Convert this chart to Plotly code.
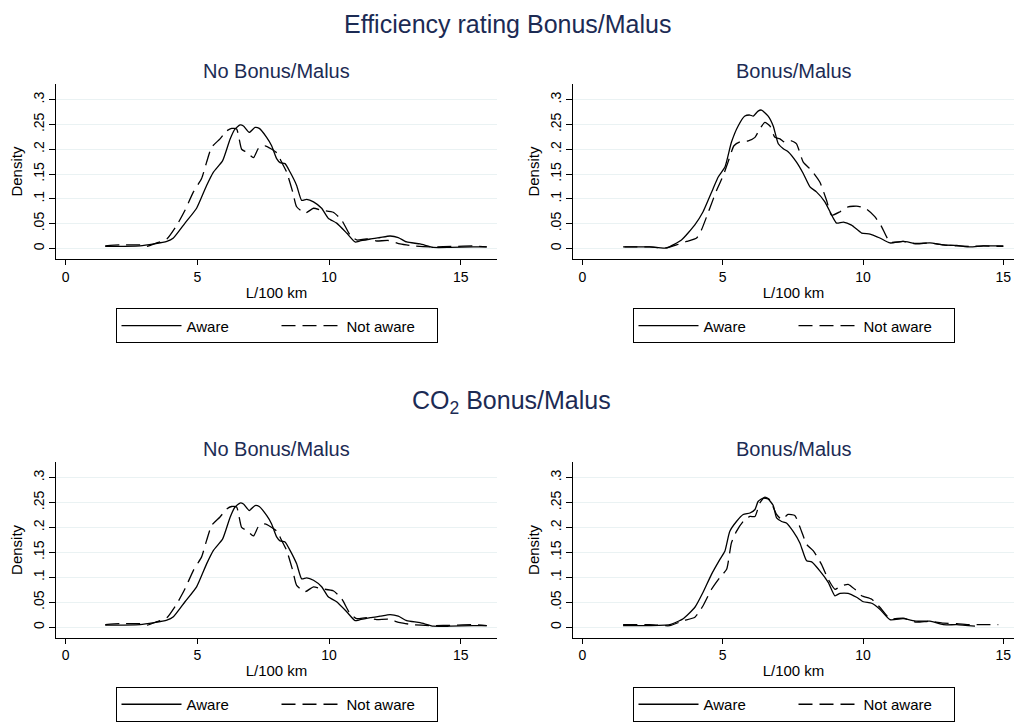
import plotly.graph_objects as go

# ---------------- data ----------------
# Efficiency rating Bonus/Malus, No Bonus/Malus
eff_no_aware_x = [1.5, 2.82, 3.84, 4.09, 4.53, 4.97, 5.35, 5.61, 5.96, 6.24, 6.43, 6.62, 6.75, 6.97, 7.19, 7.35,
                  7.63, 7.82, 8.01, 8.14, 8.33, 8.52, 8.77, 8.96, 9.15, 9.41, 9.72, 9.97, 10.29, 10.67, 10.99,
                  11.18, 11.56, 11.94, 12.32, 12.63, 12.95, 13.46, 13.96, 14.6, 15.48, 15.99]
eff_no_aware_y = [0.004, 0.005, 0.014, 0.021, 0.051, 0.081, 0.127, 0.154, 0.177, 0.220, 0.241, 0.249, 0.247,
                  0.234, 0.244, 0.242, 0.224, 0.207, 0.181, 0.173, 0.171, 0.154, 0.127, 0.097, 0.099, 0.094,
                  0.081, 0.061, 0.051, 0.031, 0.013, 0.015, 0.019, 0.022, 0.025, 0.022, 0.013, 0.009, 0.002,
                  0.002, 0.003, 0.003]
eff_no_not_x = [1.5, 2.06, 2.82, 3.08, 3.46, 3.84, 4.22, 4.53, 4.85, 5.16, 5.35, 5.54, 5.86, 6.11, 6.30, 6.49,
                6.68, 6.87, 7.13, 7.32, 7.57, 8.01, 8.20, 8.39, 8.62, 8.77, 9.09, 9.41, 9.72, 10.16, 10.48,
                10.80, 11.05, 11.43, 11.81, 12.25, 12.70, 13.2, 13.96, 14.72, 15.48, 15.99]
eff_no_not_y = [0.005, 0.007, 0.007, 0.004, 0.011, 0.019, 0.047, 0.077, 0.114, 0.141, 0.174, 0.204, 0.221,
                0.237, 0.242, 0.241, 0.200, 0.194, 0.183, 0.202, 0.207, 0.193, 0.174, 0.154, 0.114, 0.084,
                0.071, 0.081, 0.077, 0.073, 0.057, 0.027, 0.017, 0.019, 0.015, 0.016, 0.009, 0.005, 0.003,
                0.004, 0.005, 0.003]

# Efficiency rating Bonus/Malus, Bonus/Malus
eff_bm_aware_x = [1.5, 2.4, 3.0, 3.53, 4.0, 4.30, 4.66, 4.84, 5.08, 5.31, 5.55, 5.79, 5.97, 6.09, 6.26, 6.38,
                  6.62, 6.80, 6.98, 7.16, 7.33, 7.63, 7.87, 8.11, 8.34, 8.64, 8.94, 9.06, 9.30, 9.59, 9.95,
                  10.25, 10.60, 10.96, 11.43, 11.91, 12.39, 12.86, 13.34, 13.81, 14.29, 15.0]
eff_bm_aware_y = [0.003, 0.003, 0.001, 0.017, 0.047, 0.074, 0.121, 0.144, 0.164, 0.214, 0.247, 0.267, 0.269,
                  0.267, 0.277, 0.279, 0.267, 0.247, 0.211, 0.201, 0.195, 0.174, 0.151, 0.124, 0.114, 0.094,
                  0.061, 0.051, 0.053, 0.047, 0.031, 0.029, 0.021, 0.011, 0.014, 0.010, 0.011, 0.007, 0.006,
                  0.003, 0.005, 0.005]
eff_bm_not_x = [1.45, 2.40, 3.0, 3.35, 3.71, 4.07, 4.24, 4.54, 4.78, 5.02, 5.19, 5.40, 5.61, 5.91, 6.15, 6.32,
                6.50, 6.68, 6.86, 7.04, 7.21, 7.45, 7.63, 7.87, 8.17, 8.46, 8.70, 8.88, 9.18, 9.47, 9.83,
                10.13, 10.42, 10.66, 10.96, 11.43, 11.91, 12.39, 12.86, 13.34, 13.81, 14.29, 15.0]
eff_bm_not_y = [0.003, 0.003, 0.001, 0.007, 0.014, 0.021, 0.037, 0.081, 0.117, 0.147, 0.174, 0.207, 0.215,
                0.217, 0.224, 0.241, 0.254, 0.247, 0.224, 0.221, 0.214, 0.217, 0.211, 0.174, 0.157, 0.134,
                0.097, 0.067, 0.074, 0.084, 0.085, 0.079, 0.064, 0.044, 0.013, 0.014, 0.009, 0.011, 0.007,
                0.005, 0.004, 0.005, 0.004]

# CO2 Bonus/Malus, No Bonus/Malus (same curves as the efficiency panel in the reference)
co2_no_aware_x = list(eff_no_aware_x)
co2_no_aware_y = list(eff_no_aware_y)
co2_no_not_x = list(eff_no_not_x)
co2_no_not_y = list(eff_no_not_y)

# CO2 Bonus/Malus, Bonus/Malus
co2_bm_aware_x = [1.45, 2.16, 3.11, 3.59, 4.01, 4.30, 4.60, 4.90, 5.08, 5.25, 5.49, 5.73, 5.97, 6.15, 6.26,
                  6.44, 6.62, 6.80, 6.92, 7.10, 7.27, 7.51, 7.75, 7.99, 8.17, 8.46, 8.76, 9.0, 9.18, 9.47,
                  9.77, 10.01, 10.31, 10.6, 10.96, 11.43, 11.91, 12.39, 12.86, 13.34, 13.99]
co2_bm_aware_y = [0.003, 0.003, 0.005, 0.017, 0.040, 0.070, 0.106, 0.136, 0.153, 0.192, 0.212, 0.226, 0.229,
                  0.236, 0.252, 0.259, 0.257, 0.244, 0.219, 0.212, 0.209, 0.192, 0.169, 0.133, 0.131, 0.113,
                  0.090, 0.063, 0.068, 0.068, 0.060, 0.051, 0.048, 0.036, 0.015, 0.017, 0.012, 0.012, 0.005,
                  0.005, 0.002]
co2_bm_not_x = [1.45, 2.40, 3.11, 3.59, 4.01, 4.30, 4.60, 4.90, 5.14, 5.31, 5.49, 5.73, 5.97, 6.15, 6.32, 6.50,
                6.68, 6.92, 7.10, 7.33, 7.57, 7.81, 7.99, 8.23, 8.52, 8.76, 9.0, 9.24, 9.47, 9.71, 9.95,
                10.31, 10.6, 10.96, 11.43, 11.91, 12.39, 12.86, 13.34, 13.81, 14.29, 14.82]
co2_bm_not_y = [0.005, 0.005, 0.003, 0.013, 0.020, 0.043, 0.076, 0.100, 0.116, 0.169, 0.192, 0.212, 0.222,
                0.222, 0.249, 0.261, 0.255, 0.226, 0.216, 0.226, 0.224, 0.192, 0.166, 0.153, 0.126, 0.096,
                0.076, 0.083, 0.086, 0.076, 0.063, 0.056, 0.040, 0.017, 0.018, 0.010, 0.012, 0.008, 0.007,
                0.005, 0.005, 0.005]

series_names = ["Aware", "Not aware"]
main_titles = ["Efficiency rating Bonus/Malus", "CO<sub>2</sub> Bonus/Malus"]
panel_titles = ["No Bonus/Malus", "Bonus/Malus"]
x_ticks = [0, 5, 10, 15]
y_ticks = [0, 0.05, 0.1, 0.15, 0.2, 0.25, 0.3]
y_tick_text = ["0", ".05", ".1", ".15", ".2", ".25", ".3"]
x_title = "L/100 km"
y_title = "Density"

# ---------------- figure ----------------
W, H = 1015, 722
FONT = "Liberation Sans, Arial, Helvetica, sans-serif"
NAVY = "#1c2b54"
GRID = "#eaf2f3"


def px_x(p):
    return p / W


def px_y(p):
    return 1 - p / H


panels = [
    # (axis suffix, x px, y px, x range, data, legend id, subtitle)
    ("", (56, 497), (85, 261), [-0.37, 16.38],
     (eff_no_aware_x, eff_no_aware_y, eff_no_not_x, eff_no_not_y), "legend", panel_titles[0]),
    ("2", (573, 1014), (85, 261), [-0.335, 15.38],
     (eff_bm_aware_x, eff_bm_aware_y, eff_bm_not_x, eff_bm_not_y), "legend2", panel_titles[1]),
    ("3", (56, 497), (466, 643), [-0.37, 16.38],
     (co2_no_aware_x, co2_no_aware_y, co2_no_not_x, co2_no_not_y), "legend3", panel_titles[0]),
    ("4", (573, 1014), (466, 643), [-0.335, 15.38],
     (co2_bm_aware_x, co2_bm_aware_y, co2_bm_not_x, co2_bm_not_y), "legend4", panel_titles[1]),
]

fig = go.Figure()
layout = dict(
    width=W, height=H, autosize=False,
    margin=dict(l=0, r=0, t=0, b=0),
    paper_bgcolor="white", plot_bgcolor="white",
    font=dict(family=FONT, color="black", size=14),
    annotations=[],
)

for suffix, (x0, x1), (y0, y1), xr, data, leg, sub in panels:
    ax, ay, nx, ny = data
    xa = "x" + suffix
    ya = "y" + suffix
    fig.add_trace(go.Scatter(x=ax, y=ay, mode="lines", name=series_names[0],
                             line=dict(color="black", width=1.3, shape="spline", smoothing=0.5),
                             xaxis=xa, yaxis=ya, legend=leg, hoverinfo="x+y"))
    fig.add_trace(go.Scatter(x=nx, y=ny, mode="lines", name=series_names[1],
                             line=dict(color="black", width=1.3, dash="14px,7px", shape="spline", smoothing=0.5),
                             xaxis=xa, yaxis=ya, legend=leg, hoverinfo="x+y"))

    layout["xaxis" + suffix] = dict(
        domain=[px_x(x0), px_x(x1)], anchor=ya, range=xr,
        showline=True, linecolor="black", linewidth=1, mirror=False,
        ticks="outside", ticklen=5, tickcolor="black", tickwidth=1,
        tickvals=x_ticks, showgrid=False, zeroline=False,
        tickfont=dict(size=14, family=FONT, color="black"),
        title=dict(text=x_title, font=dict(size=15, family=FONT, color="black"), standoff=3),
        automargin=False,
    )
    layout["yaxis" + suffix] = dict(
        domain=[px_y(y1), px_y(y0)], anchor=xa, range=[-0.021, 0.331],
        showline=True, linecolor="black", linewidth=1, mirror=False,
        ticks="outside", ticklen=6, tickcolor="black", tickwidth=1,
        tickvals=y_ticks, ticktext=y_tick_text, tickangle=-90,
        ticklabelstandoff=-1,
        showgrid=True, gridcolor=GRID, gridwidth=1, zeroline=False,
        tickfont=dict(size=14, family=FONT, color="black"),
        title=dict(text=y_title, font=dict(size=15, family=FONT, color="black"), standoff=5),
        automargin=False,
    )
    layout[leg] = dict(
        orientation="h", x=px_x((x0 + x1) / 2), xanchor="center",
        y=px_y(y1 + 50), yanchor="top",
        bordercolor="black", borderwidth=1, bgcolor="white",
        font=dict(size=15, family=FONT, color="black"),
        itemwidth=60, entrywidth=85, entrywidthmode="pixels",
    )
    layout["annotations"].append(dict(
        text=sub,
        x=px_x((x0 + x1) / 2), y=px_y(y0 - 13), xref="paper", yref="paper",
        xanchor="center", yanchor="middle", showarrow=False,
        font=dict(size=20, family=FONT, color=NAVY),
    ))

layout["annotations"].append(dict(
    text=main_titles[0], x=px_x(507), y=px_y(24), xref="paper", yref="paper",
    xanchor="center", yanchor="middle", showarrow=False,
    font=dict(size=25, family=FONT, color=NAVY)))
layout["annotations"].append(dict(
    text=main_titles[1], x=px_x(511), y=px_y(405), xref="paper", yref="paper",
    xanchor="center", yanchor="middle", showarrow=False,
    font=dict(size=25, family=FONT, color=NAVY)))

fig.update_layout(**layout)
# remove the browser's default 8 px body margin so the 1015x722 figure fills the window exactly
fig.write_html("out.html", config={"responsive": False, "displayModeBar": False},
               post_script="document.body.style.margin='0';")
